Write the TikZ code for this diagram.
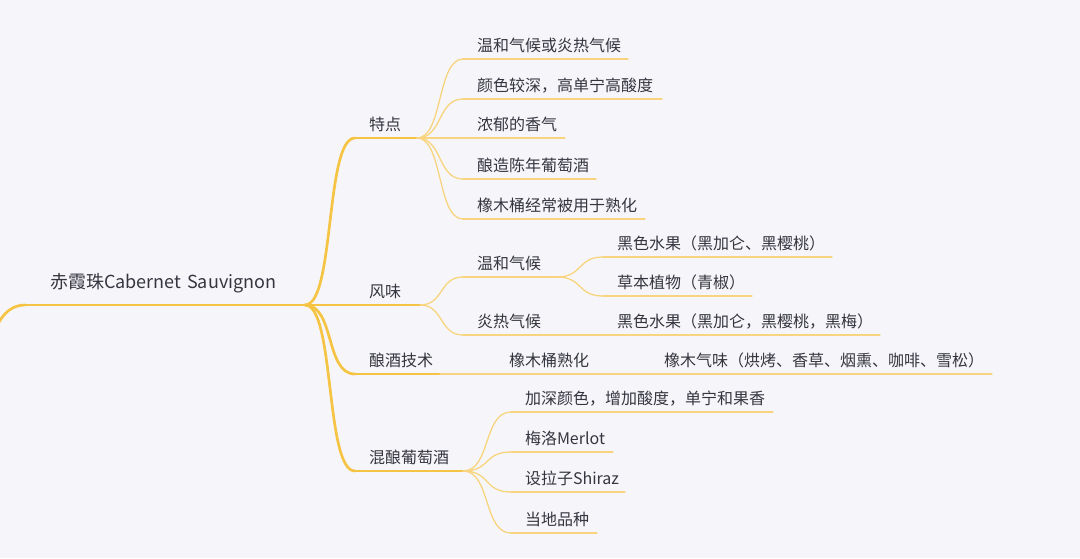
\documentclass[tikz,border=0pt]{standalone}
\usepackage{fontspec}
\setmainfont{Noto Sans CJK SC}
\definecolor{paper}{HTML}{F6F6FA}
\definecolor{ink}{HTML}{35353F}
\definecolor{gold}{HTML}{F6C445}
\definecolor{goldlight}{HTML}{F8D47E}

\begin{document}
\begin{tikzpicture}[x=1pt,y=-1pt,
  topic/.style={anchor=south west,inner xsep=0pt,inner ysep=8pt,outer sep=0pt,
    text depth=0pt,align=left,text=ink,font=\fontsize{16}{19}\selectfont,
    execute at begin node={\hspace*{#1}}},
  topic/.default=14pt,
  root/.style={topic=25pt,inner ysep=17pt,font=\fontsize{18}{21}\selectfont},
  mainline/.style={draw=gold,line width=2.7pt,line cap=round},
  subline/.style={draw=goldlight,line width=1.3pt,line cap=round},
  link/.style={to path={.. controls +(#1,0) and +(-#1,0) .. (\tikztotarget)}},
  link/.default=26]
  \useasboundingbox (0,0) rectangle (1080,558);
  \clip (0,0) rectangle (1080,558);
  \fill[paper] (0,0) rectangle (1080,558);

  % centre and first level
  \coordinate (lead) at (-8,350);
  \node[root,text width=280pt] (root) at (25,305) {赤霞珠Cabernet Sauvignon};
  \node[topic,text width=62pt] (tedian) at (355,138) {特点};
  \node[topic,text width=65pt] (fengwei) at (355,305) {风味};
  \node[topic,text width=85pt] (niangjiu) at (355,374) {酿酒技术};
  \node[topic,text width=108pt] (hunniang) at (355,471) {混酿葡萄酒};

  % 特点
  \node[topic,text width=165pt] (td1) at (463,59) {温和气候或炎热气候};
  \node[topic,text width=199pt] (td2) at (463,99) {颜色较深，高单宁高酸度};
  \node[topic,text width=102pt] (td3) at (463,138) {浓郁的香气};
  \node[topic,text width=133pt] (td4) at (463,179) {酿造陈年葡萄酒};
  \node[topic,text width=182pt] (td5) at (463,219) {橡木桶经常被用于熟化};

  % 风味
  \node[topic,text width=94pt] (wenhe) at (463,277) {温和气候};
  \node[topic,text width=94pt] (yanre) at (463,335) {炎热气候};
  \node[topic,text width=229pt] (wh1) at (603,257) {黑色水果（黑加仑、黑樱桃）};
  \node[topic,text width=149pt] (wh2) at (603,296) {草本植物（青椒）};
  \node[topic,text width=277pt] (yr1) at (603,335) {黑色水果（黑加仑，黑樱桃，黑梅）};

  % 酿酒技术
  \node[topic,text width=103pt] (xiangmu) at (495,374) {橡木桶熟化};
  \node[topic,text width=342pt] (xm1) at (650,374) {橡木气味（烘烤、香草、烟熏、咖啡、雪松）};

  % 混酿葡萄酒
  \node[topic,text width=262pt] (hn1) at (511,412) {加深颜色，增加酸度，单宁和果香};
  \node[topic,text width=102pt] (hn2) at (511,452) {梅洛Merlot};
  \node[topic,text width=114pt] (hn3) at (511,492) {设拉子Shiraz};
  \node[topic,text width=86pt] (hn4) at (511,533) {当地品种};

  % underlines
  \foreach \n in {root,tedian,fengwei,niangjiu,hunniang}
    \draw[mainline] (\n.south west) -- (\n.south east);
  \foreach \n in {td1,td2,td3,td4,td5,wenhe,yanre,wh1,wh2,yr1,xiangmu,xm1,hn1,hn2,hn3,hn4}
    \draw[subline] (\n.south west) -- (\n.south east);

  % branches
  \draw[mainline] (lead) .. controls +(0,-20) and +(-22,0) .. (root.south west);
  \foreach \n in {tedian,fengwei,niangjiu,hunniang}
    \draw[mainline,link=30] (root.south east) to (\n.south west);
  \foreach \n in {td1,td2,td3,td4,td5}
    \draw[subline,link] (tedian.south east) to (\n.south west);
  \foreach \n in {wenhe,yanre}
    \draw[subline,link=24] (fengwei.south east) to (\n.south west);
  \foreach \n in {wh1,wh2}
    \draw[subline,link] (wenhe.south east) to (\n.south west);
  \draw[subline] (yanre.south east) -- (yr1.south west);
  \draw[subline] (niangjiu.south east) -- (xiangmu.south west);
  \draw[subline] (xiangmu.south east) -- (xm1.south west);
  \foreach \n in {hn1,hn2,hn3,hn4}
    \draw[subline,link=28] (hunniang.south east) to (\n.south west);
\end{tikzpicture}
\end{document}
